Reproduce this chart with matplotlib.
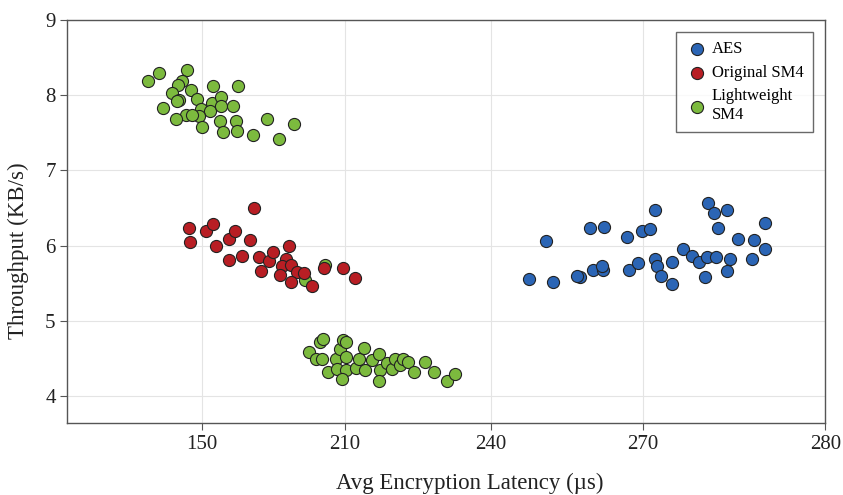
import matplotlib.pyplot as plt
import numpy as np

# x axis in the source has uneven tick spacing: 150, 210, 240, 270, 280
tick_vals = [150, 210, 240, 270, 280]

aes_x = [247.5, 250.8, 252.3, 257.5, 259.5, 260.1, 262.1, 262.3, 267.2, 266.8,
         269.1, 269.8, 270.4, 270.7, 270.7, 270.8, 271.0, 271.6, 271.6, 272.2,
         272.7, 273.1, 273.5, 274.0, 273.4, 273.6, 273.9, 274.1, 274.6, 274.8,
         274.6, 275.2, 276.0, 276.1, 276.7, 276.7, 261.9, 257.0]
aes_y = [5.56, 6.06, 5.52, 5.58, 6.23, 5.68, 5.68, 6.25, 5.68, 6.12,
         5.77, 6.19, 6.22, 6.48, 5.82, 5.73, 5.60, 5.78, 5.49, 5.96,
         5.87, 5.78, 5.85, 5.85, 5.59, 6.57, 6.43, 6.24, 6.48, 5.83,
         5.66, 6.09, 5.83, 6.07, 6.30, 5.96, 5.73, 5.60]

sm4_x = [144.8, 145.2, 151.8, 154.9, 156.1, 161.6, 163.9, 161.6, 166.9, 170.3,
         172.1, 174.0, 178.2, 180.0, 186.6, 185.2, 175.0, 183.6, 187.4, 182.7,
         189.8, 193.0, 187.3, 196.3, 201.1, 209.2, 212.1]
sm4_y = [6.23, 6.05, 6.20, 6.29, 6.00, 6.09, 6.19, 5.81, 5.87, 6.07,
         6.50, 5.85, 5.80, 5.92, 5.99, 5.83, 5.66, 5.73, 5.75, 5.61,
         5.65, 5.64, 5.52, 5.46, 5.70, 5.71, 5.57]

# lightweight SM4: upper cluster, two hidden points, lower cluster
light_x = [127.8, 132.2, 143.9, 142.0, 140.1, 137.8, 145.5, 154.9, 165.3, 140.7,
           139.6, 148.1, 154.3, 158.0, 133.9, 149.7, 153.6, 158.0, 163.3, 143.4,
           139.2, 149.1, 145.9, 157.7, 164.4, 150.3, 159.1, 165.0, 177.3, 171.7,
           182.2, 188.7,
           193.3, 201.6,
           194.9, 199.5, 200.9, 197.9, 200.2, 203.0, 206.1, 206.5, 207.9, 209.3,
           210.2, 210.2, 210.1, 208.9, 212.3, 212.9, 213.9, 214.1, 215.5, 217.0,
           217.1, 216.9, 218.6, 219.6, 220.3, 221.3, 221.9, 222.9, 224.2, 226.5,
           228.2, 230.9, 232.6]
light_y = [8.19, 8.29, 8.33, 8.19, 8.14, 8.03, 8.07, 8.12, 8.12, 7.94,
           7.92, 7.95, 7.90, 7.98, 7.83, 7.81, 7.79, 7.85, 7.85, 7.74,
           7.68, 7.72, 7.73, 7.65, 7.65, 7.58, 7.51, 7.53, 7.68, 7.47,
           7.42, 7.61,
           5.55, 5.75,
           4.59, 4.72, 4.76, 4.49, 4.50, 4.32, 4.50, 4.36, 4.63, 4.75,
           4.72, 4.52, 4.35, 4.23, 4.38, 4.50, 4.64, 4.35, 4.48, 4.56,
           4.35, 4.21, 4.44, 4.36, 4.50, 4.41, 4.50, 4.46, 4.32, 4.45,
           4.33, 4.21, 4.30]

# piecewise scale so the uneven ticks land where they do in the source
_v = np.array([0, 94, 150, 210, 240, 270, 280, 400])
_p = np.array([-224.9, 0, 134, 277.5, 423.5, 575, 757.5, 2947.5])


def fwd(x):
    return np.interp(x, _v, _p)


def inv(p):
    return np.interp(p, _p, _v)


plt.rcParams['font.family'] = ['Liberation Serif', 'DejaVu Serif']

fig = plt.figure(figsize=(8.43, 4.95), dpi=100)
ax = fig.add_axes([0.080, 0.146, 0.899, 0.814])
ax.set_xscale('function', functions=(fwd, inv))

kw = dict(s=76, edgecolors='#222222', linewidths=0.8)
ax.scatter(aes_x, aes_y, color='#2b65b5', label='AES', zorder=3, **kw)
ax.scatter(light_x, light_y, color='#7cba3e', label='Lightweight\nSM4', zorder=2, **kw)
ax.scatter(sm4_x, sm4_y, color='#b81e24', label='Original SM4', zorder=3, **kw)

ax.set_xlim(94, 280)
ax.set_ylim(3.65, 9)
ax.set_xticks(tick_vals)
ax.set_xticklabels([str(v) for v in tick_vals])
ax.set_yticks([4, 5, 6, 7, 8, 9])
ax.grid(True, color='#e4e4e4', linewidth=0.8, zorder=0)
ax.set_axisbelow(True)
ax.tick_params(labelsize=15, colors='#555555', labelcolor='#222222', length=5, width=0.8)
for sp in ax.spines.values():
    sp.set_color('#555555')
    sp.set_linewidth(1.0)

ax.set_xlabel('Avg Encryption Latency (µs)', fontsize=16.5, color='#222222')
ax.xaxis.set_label_coords(0.531, -0.125)
ax.set_ylabel('Throughput (KB/s)', fontsize=16.5, color='#222222')
ax.yaxis.set_label_coords(-0.051, 0.427)

h, l = ax.get_legend_handles_labels()
order = [0, 2, 1]
leg = ax.legend([h[i] for i in order], [l[i] for i in order], loc='upper right',
                fontsize=12, frameon=True, fancybox=False, edgecolor='#444444',
                borderpad=0.55, handletextpad=0.2, labelspacing=0.45,
                borderaxespad=0.75, handlelength=1.4)
leg.get_frame().set_linewidth(1.0)

fig.savefig('out.png', dpi=100)
